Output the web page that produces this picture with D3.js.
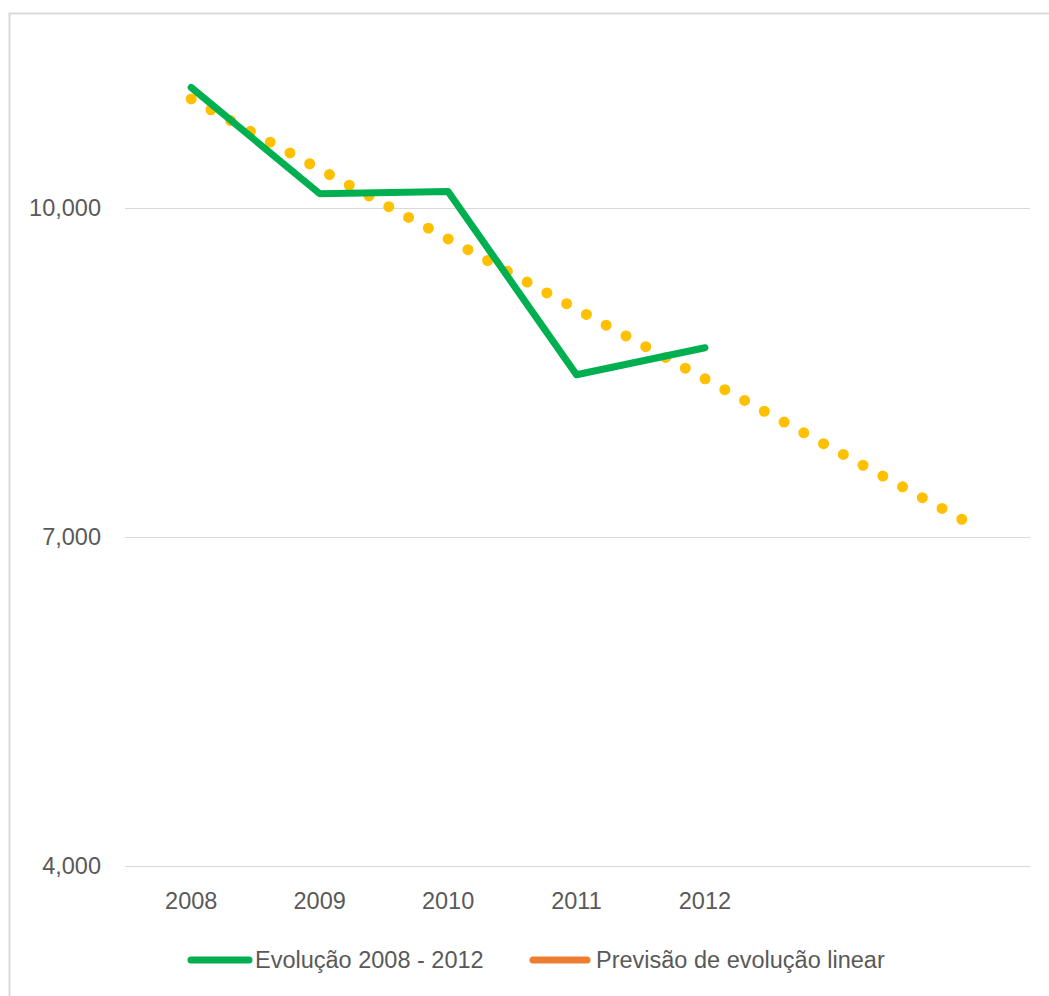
<!DOCTYPE html>
<html>
<head>
<meta charset="utf-8">
<script src="https://cdn.jsdelivr.net/npm/d3@7"></script>
<style>
  body { margin: 0; background: #fff; }
  text { font-family: "Liberation Sans", Arial, sans-serif; fill: #595959; }
</style>
</head>
<body>
<div id="wrapper"></div>
<script>
// categorias do eixo x (os dois ultimos anos ficam sem rotulo)
const years = ["2008", "2009", "2010", "2011", "2012", "2013", "2014"];
const yearLabels = ["2008", "2009", "2010", "2011", "2012", "", ""];
// valores
const evolucao = [11094, 10127, 10146, 8477, 8723];
const previsao = [10990, 10350, 9715, 9075, 8440, 7800, 7160];
const yTicks = [4000, 7000, 10000];
const legendNames = ["Evolução 2008 - 2012", "Previsão de evolução linear"];

const width = 1049;
const height = 996;
const plot = { left: 127, right: 1030, top: 43, bottom: 866 };

const svg = d3.select("#wrapper")
  .append("svg")
  .attr("width", width)
  .attr("height", height);

// moldura cinza do grafico
svg.append("rect")
  .attr("x", 9.5).attr("y", 13.5)
  .attr("width", width).attr("height", height)
  .attr("fill", "none")
  .attr("stroke", "#d9d9d9")
  .attr("stroke-width", 2);

const x = d3.scaleBand()
  .domain(years)
  .range([plot.left, plot.right - 4]);

const y = d3.scaleLinear()
  .domain([4000, 11500])
  .range([plot.bottom, plot.top]);

const cx = d => x(d) + x.bandwidth() / 2;

// linhas de grade horizontais
svg.append("g")
  .selectAll("line")
  .data(yTicks)
  .join("line")
    .attr("x1", 125)
    .attr("x2", plot.right)
    .attr("y1", d => Math.round(y(d)) + 0.5)
    .attr("y2", d => Math.round(y(d)) + 0.5)
    .attr("stroke", "#d9d9d9")
    .attr("stroke-width", 1);

// eixo y
const yAxis = g => {
  g.attr("transform", `translate(101, 0)`)
    .call(d3.axisLeft(y).tickValues(yTicks).tickSize(0).tickPadding(0).tickFormat(d3.format(",")))
    .call(g => g.select(".domain").remove())
    .selectAll("text")
      .attr("font-size", "23.5px")
      .attr("fill", "#595959")
      .attr("font-family", "Liberation Sans, Arial, sans-serif");
};

// eixo x
const xAxis = g => {
  g.attr("transform", `translate(0, ${plot.bottom})`)
    .call(d3.axisBottom(x).tickSize(0).tickPadding(26).tickFormat((d, i) => yearLabels[i]))
    .call(g => g.select(".domain").remove())
    .selectAll("text")
      .attr("font-size", "23.5px")
      .attr("fill", "#595959")
      .attr("font-family", "Liberation Sans, Arial, sans-serif");
};

svg.append("g").call(yAxis);
svg.append("g").call(xAxis);

// linha de tendencia pontilhada
const line = d3.line()
  .x(d => cx(d.year))
  .y(d => y(d.value));

const trend = svg.append("path")
  .datum(previsao.map((v, i) => ({ year: years[i], value: v })))
  .attr("d", line)
  .attr("fill", "none")
  .attr("stroke", "#FFC000")
  .attr("stroke-width", 11)
  .attr("stroke-linecap", "round");

// espacamento dos pontos ajustado para terminar no fim da linha
const len = trend.node().getTotalLength();
const n = Math.round(len / 22.7);
trend.attr("stroke-dasharray", `0 ${len / n}`);

// serie principal
svg.append("path")
  .datum(evolucao.map((v, i) => ({ year: years[i], value: v })))
  .attr("d", line)
  .attr("fill", "none")
  .attr("stroke", "#00B050")
  .attr("stroke-width", 7)
  .attr("stroke-linecap", "round")
  .attr("stroke-linejoin", "round");

// legenda
const legend = svg.append("g").attr("transform", "translate(0, 960)");
const legendItems = [
  { name: legendNames[0], color: "#00B050", x1: 191, x2: 249, tx: 255 },
  { name: legendNames[1], color: "#ED7D31", x1: 533, x2: 587, tx: 596 }
];
legendItems.forEach(item => {
  legend.append("line")
    .attr("x1", item.x1).attr("x2", item.x2)
    .attr("y1", 0).attr("y2", 0)
    .attr("stroke", item.color)
    .attr("stroke-width", 7)
    .attr("stroke-linecap", "round");
  legend.append("text")
    .attr("x", item.tx)
    .attr("y", 0)
    .attr("dy", "0.35em")
    .attr("font-size", "23.5px")
    .text(item.name);
});
</script>
</body>
</html>
